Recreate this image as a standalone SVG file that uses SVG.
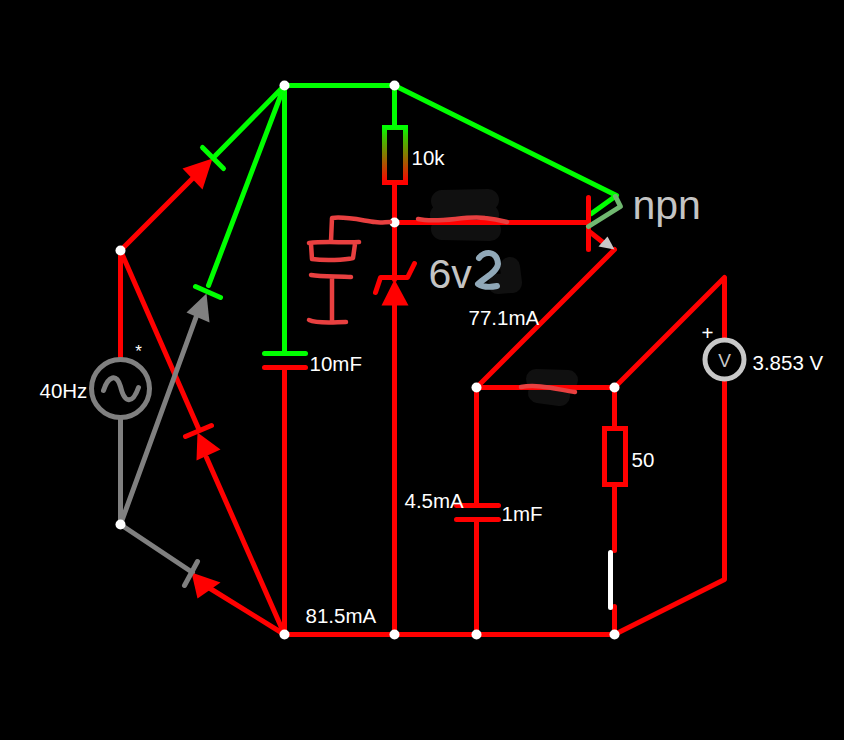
<svg xmlns="http://www.w3.org/2000/svg" width="844" height="740" viewBox="0 0 844 740">
<style>
.w{fill:none;stroke-width:5;stroke-linecap:round;stroke-linejoin:round}
.r{stroke:#f00}.g{stroke:#0f0}.y{stroke:#808080}
.fr{fill:#f00}.fy{fill:#808080}
.j{fill:#fff}
.t{font-family:"Liberation Sans",Arial,sans-serif;font-size:20.5px;fill:#fff}
.big{font-family:"Liberation Sans",Arial,sans-serif;font-size:41px;fill:#c4c4c4}
.ink{fill:none;stroke:#e84040;stroke-width:4.500;stroke-linecap:round;stroke-linejoin:round}
.blot{fill:none;stroke:#101010;stroke-linecap:round;stroke-linejoin:round}
</style>
<defs>
<linearGradient id="rg" gradientUnits="userSpaceOnUse" x1="0" y1="127" x2="0" y2="182"><stop offset="0" stop-color="#0f0"/><stop offset="0.15" stop-color="#3c0"/><stop offset="1" stop-color="#f00"/></linearGradient>
</defs>
<rect width="844" height="740" fill="#000"/>
<g id="blots">
<path class="blot" stroke-width="22" d="M442 201L488 200M441 215L488 215M442 229L490 230"/>
<path class="blot" stroke-width="20" d="M510 267L512 283M498 284L510 283"/>
<path class="blot" stroke-width="20" d="M536 379L568 380M538 393L560 396"/>
</g>
<g id="circuit" transform="translate(.5 .5)">
<g id="connectors">
<path class="w r" d="M120 250L120 357M120 250L197 173M120 250L198 428M206 457L284 634M284 634L208 587M284 634L284 369M284 634L614 634M394 634L394 302M394 183L394 279M394 222L587 222M476 387L476 505M476 519L476 634M476 387L614 387L614 428M614 484L614 550M614 606L614 634M476 387L614 249M614 387L724 277L724 340M724 378L724 579L614 634"/>
<path class="w r" d="M590 232L604 243"/>
<path class="w y" d="M120 418L120 524L192 572M120 524L198 310"/>
<path class="w g" d="M284 85L394 85L394 127M394 85L616 195L591 213M284 85L215 155M284 85L208 285M284 85L284 351"/>
</g>
<g id="bridge-d1">
<path class="fr" d="M212 158L182 168L202 189Z"/>
<path class="w g" d="M202 147L223 168"/>
</g>
<g id="bridge-d2">
<path class="fy" d="M206 293L186 312L209 322Z"/>
<path class="w g" d="M195 286L220 297"/>
</g>
<g id="bridge-d3">
<path class="fr" d="M197 432L196 460L220 449Z"/>
<path class="w r" d="M185 436L211 425"/>
</g>
<g id="bridge-d4">
<path class="fr" d="M191 572L197 598L220 582Z"/>
<path class="w y" d="M197 561L184 585"/>
</g>
<g id="source">
<circle cx="120" cy="388" r="29" fill="#000" stroke="#808080" stroke-width="5"/>
<path fill="none" stroke="#808080" stroke-width="5" stroke-linecap="round" stroke-linejoin="round" d="M103 390C108 375 116 373 120 386C124 403 132 404 138 387"/>
<text class="t" x="39" y="397">40Hz</text>
<text x="138" y="356" font-family="Liberation Sans, Arial, sans-serif" font-size="17" fill="#fff" text-anchor="middle">*</text>
</g>
<g id="cap-10mF">
<path class="w g" d="M264 353L305 353"/>
<path class="w r" d="M264 367L305 367"/>
<text class="t" x="309" y="370">10mF</text>
</g>
<g id="res-10k">
<rect x="384" y="127" width="21" height="55" fill="none" stroke="url(#rg)" stroke-width="5"/>
<text class="t" x="411" y="164">10k</text>
</g>
<g id="zener">
<path class="fr" d="M394 279L381 305L408 305Z"/>
<path class="w r" d="M375 292L380 277L407 277L414 263"/>
</g>
<g id="transistor">
<path class="w r" d="M588 197L588 249"/>
<path fill="#c8c8c8" d="M614 249L598 246L607 236Z"/>
<path class="w" stroke="#70b870" stroke-width="4" d="M588 226L620 206L615 196"/>
<text class="big" x="632" y="218">npn</text>
</g>
<g id="cap-1mF">
<path class="w r" d="M456 505L498 505M456 519L498 519"/>
<text class="t" x="501" y="520">1mF</text>
</g>
<g id="res-50">
<rect x="604" y="428" width="21" height="56" fill="none" stroke="#f00" stroke-width="5"/>
<text class="t" x="631" y="466">50</text>
</g>
<g id="switch">
<path fill="none" stroke="#fff" stroke-width="5" stroke-linecap="round" d="M610 552L610 607"/>
</g>
<g id="voltmeter">
<circle cx="724" cy="359" r="19.500" fill="#000" stroke="#c8c8c8" stroke-width="5"/>
<text x="724" y="366" font-family="Liberation Sans, Arial, sans-serif" font-size="19" fill="#c8c8c8" text-anchor="middle">V</text>
<text class="t" x="701" y="339">+</text>
<text class="t" x="752" y="369">3.853 V</text>
</g>
<g id="junctions">
<circle class="j" cx="284" cy="85" r="5"/><circle class="j" cx="394" cy="85" r="5"/><circle class="j" cx="394" cy="222" r="5"/><circle class="j" cx="120" cy="250" r="5"/><circle class="j" cx="120" cy="524" r="5"/><circle class="j" cx="476" cy="387" r="5"/><circle class="j" cx="614" cy="387" r="5"/><circle class="j" cx="284" cy="634" r="5"/><circle class="j" cx="394" cy="634" r="5"/><circle class="j" cx="476" cy="634" r="5"/><circle class="j" cx="614" cy="634" r="5"/>
</g>
<g id="labels">
<text class="t" x="468" y="324">77.1mA</text>
<text class="t" x="404" y="507">4.5mA</text>
<text class="t" x="305" y="622">81.5mA</text>
<text x="428" y="287" font-family="Liberation Sans, Arial, sans-serif" font-size="41" fill="#c4c4c4">6v</text>
</g>
</g>
<g id="sketch">
<path class="ink" d="M418 219C440 224 465 215 485 218C495 219 503 221 507 222"/>
<path class="ink" d="M331 241L332 218C345 216 365 221 375 222C380 223 385 222 390 222"/>
<path class="ink" d="M309 243C325 241 345 243 359 242M311 244L312 259C325 261 345 260 353 258L355 244"/>
<path class="ink" d="M311 275C322 277 340 276 351 277M332 278L332 321M309 320C318 324 335 322 346 322"/>
<path class="ink" d="M521 387C538 384 555 389 575 392"/>
<path fill="none" stroke="#90a8b8" stroke-width="6" stroke-linecap="round" stroke-linejoin="round" d="M479 258C484 251 497 250 498 264C497 272 486 277 478 284C484 288 492 287 497 286"/>
</g>
</svg>
